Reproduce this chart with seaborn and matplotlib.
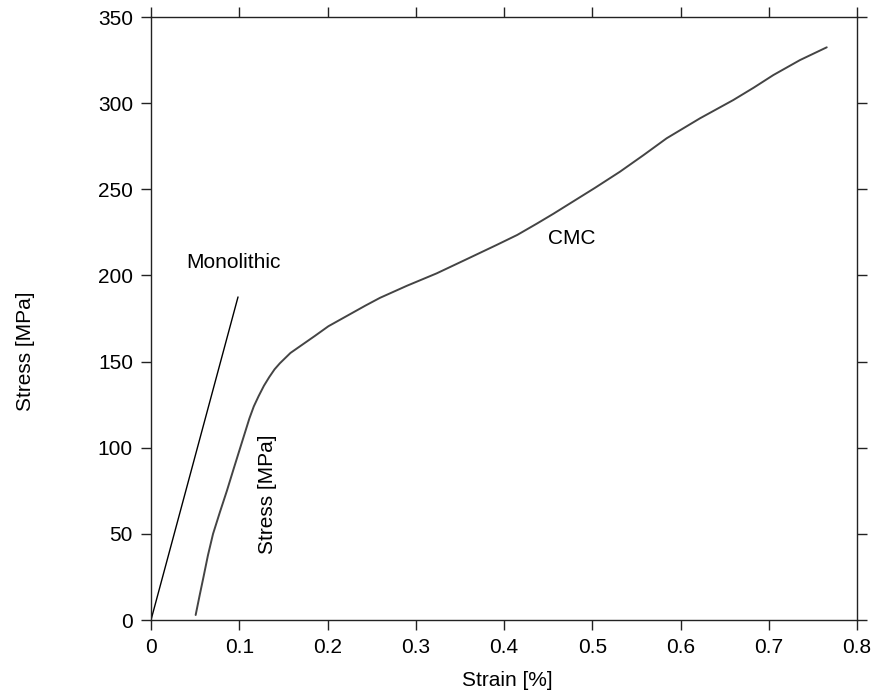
import pandas as pd
import matplotlib
matplotlib.use('Agg')
import matplotlib.pyplot as plt
import seaborn as sns

# ----------------------------------------------------------------------
# データ
# ----------------------------------------------------------------------
cmc_strain = [0.0506, 0.0550, 0.0595, 0.0645, 0.0703, 0.0780, 0.0860,
              0.0935, 0.1005, 0.1060, 0.1115, 0.1165, 0.1220, 0.1280,
              0.1340, 0.1400, 0.1460, 0.1520, 0.1580, 0.1650, 0.1720,
              0.1860, 0.2010, 0.2220, 0.2430, 0.2595, 0.2900, 0.3237,
              0.3580, 0.3917, 0.4150, 0.4370, 0.4560, 0.4748, 0.5030,
              0.5314, 0.5580, 0.5843, 0.6221, 0.6598, 0.6830, 0.7052,
              0.7354, 0.7657]
cmc_stress = [2.9, 14.0, 25.0, 37.5, 50.0, 62.5, 75.0,
              87.5, 99.0, 108.0, 117.0, 124.0, 130.0, 136.0,
              141.0, 145.5, 149.0, 152.0, 155.0, 157.5, 160.0,
              165.0, 170.5, 176.5, 182.5, 187.0, 194.0, 201.2,
              209.5, 217.7, 223.5, 230.0, 235.8, 241.8, 250.8,
              260.2, 269.8, 279.6, 291.2, 301.8, 309.0, 316.3,
              325.0, 332.4]

mono_strain = [0.0, 0.0986]
mono_stress = [0.0, 187.5]

x_ticks = [0, 0.1, 0.2, 0.3, 0.4, 0.5, 0.6, 0.7, 0.8]
x_tick_labels = ['0', '0.1', '0.2', '0.3', '0.4', '0.5', '0.6', '0.7', '0.8']
y_ticks = [0, 50, 100, 150, 200, 250, 300, 350]

OUTPUT_IMAGE_FILE = 'out.png'


def main():
    sns.set_theme(style='ticks')
    plt.rcParams['font.family'] = ['Liberation Sans', 'DejaVu Sans']
    plt.rcParams['text.color'] = 'black'
    plt.rcParams['axes.labelcolor'] = 'black'

    df_cmc = pd.DataFrame({'strain': cmc_strain, 'stress': cmc_stress})
    df_mono = pd.DataFrame({'strain': mono_strain, 'stress': mono_stress})

    fig = plt.figure(figsize=(8.72, 6.93), dpi=100)
    ax = fig.add_axes([151 / 872, 1 - 620 / 693, 706 / 872, 603 / 693])

    # --- 曲線 ---
    sns.lineplot(data=df_mono, x='strain', y='stress', ax=ax,
                 color='black', linewidth=1.0, sort=False, estimator=None)
    sns.lineplot(data=df_cmc, x='strain', y='stress', ax=ax,
                 color='#444444', linewidth=1.4, sort=False, estimator=None)

    # --- 軸 ---
    ax.set_xlim(0, 0.8)
    ax.set_ylim(0, 350)
    ax.set_xticks(x_ticks)
    ax.set_xticklabels(x_tick_labels)
    ax.set_yticks(y_ticks)
    ax.tick_params(direction='out', top=True, right=True, length=7.5,
                   width=1.0, labelsize=15, pad=5.5, color='#222222',
                   labelcolor='black')
    for sp in ax.spines.values():
        sp.set_visible(True)
        sp.set_linewidth(1.0)
        sp.set_color('#222222')

    ax.set_xlabel('Strain [%]', fontsize=15, color='black')
    ax.set_ylabel('Stress [MPa]', fontsize=15, color='black')
    ax.xaxis.set_label_coords(0.505, -0.085)
    ax.yaxis.set_label_coords(-0.164, 0.445)

    # --- 注記 ---
    ax.text(0.0397, 204.3, 'Monolithic', fontsize=15, ha='left',
            va='baseline', color='black')
    ax.text(0.4499, 218.2, 'CMC', fontsize=15, ha='left', va='baseline',
            color='black')
    ax.text(0.1382, 38.3, 'Stress [MPa]', fontsize=15, ha='left',
            va='baseline', rotation=90, rotation_mode='anchor',
            color='black')

    fig.savefig(OUTPUT_IMAGE_FILE, dpi=100)


if __name__ == '__main__':
    main()
